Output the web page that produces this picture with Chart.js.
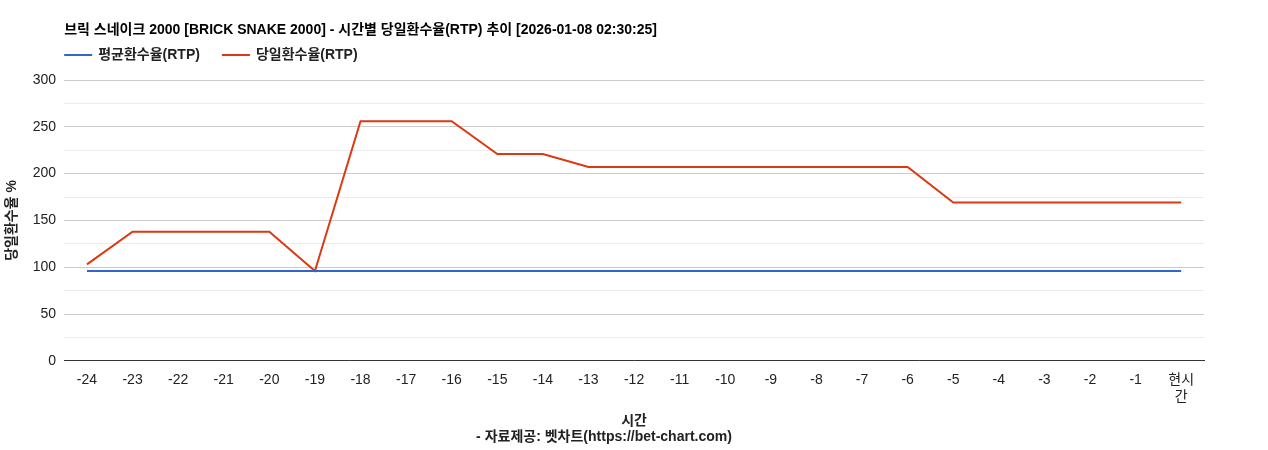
<!DOCTYPE html>
<html><head><meta charset="utf-8">
<script src="https://cdn.jsdelivr.net/npm/chart.js@4/dist/chart.umd.min.js"></script>
<style>html,body{margin:0;padding:0;background:#fff}#wrap{width:1268px;height:450px}</style>
</head><body><div id="wrap"><canvas id="c"></canvas></div>
<script>
const hours = ['-24','-23','-22','-21','-20','-19','-18','-17','-16','-15','-14','-13','-12','-11','-10','-9','-8','-7','-6','-5','-4','-3','-2','-1',['현시','간']];
const avgRtp = [96,96,96,96,96,96,96,96,96,96,96,96,96,96,96,96,96,96,96,96,96,96,96,96,96];
const dayRtp = [103,138,138,138,138,96,256,256,256,221,221,207,207,207,207,207,207,207,207,169,169,169,169,169,169];
const chartTitle = '브릭 스네이크 2000 [BRICK SNAKE 2000] - 시간별 당일환수율(RTP) 추이 [2026-01-08 02:30:25]';

const FONT = "Arial,'Liberation Sans','Noto Sans CJK KR',sans-serif";
Chart.defaults.font.family = FONT;
Chart.defaults.color = '#222';

// 제목 + 범례를 플롯 왼쪽선에 맞춰 그림
const headerPlugin = {
  id: 'header',
  afterDraw(chart) {
    const ctx = chart.ctx, left = chart.chartArea.left;
    ctx.save();
    ctx.fillStyle = '#000';
    ctx.textBaseline = 'middle';
    ctx.font = 'bold 14px ' + FONT;
    ctx.fillText(chartTitle, left, 30);
    ctx.font = 'bold 14px ' + FONT;
    let x = left;
    chart.data.datasets.forEach(ds => {
      ctx.fillStyle = ds.borderColor;
      ctx.fillRect(x, 54, 28, 2);
      ctx.fillStyle = '#222';
      ctx.fillText(ds.label, x + 34, 55);
      x += 34 + ctx.measureText(ds.label).width + 22;
    });
    ctx.restore();
  }
};

new Chart(document.getElementById('c'), {
  type: 'line',
  data: {
    labels: hours,
    datasets: [
      { label: '평균환수율(RTP)', data: avgRtp, borderColor: '#3366cc', borderWidth: 2, pointRadius: 0, tension: 0 },
      { label: '당일환수율(RTP)', data: dayRtp, borderColor: '#dc3912', borderWidth: 2, pointRadius: 0, tension: 0 }
    ]
  },
  options: {
    responsive: true, maintainAspectRatio: false, animation: false,
    layout: { padding: { left: 4, right: 64, top: 80, bottom: 4 } },
    plugins: {
      legend: { display: false },
      subtitle: { display: true, position: 'bottom', text: '- 자료제공: 벳차트(https://bet-chart.com)', font: { size: 14, weight: 'bold' }, padding: { top: 0, bottom: 0 } },
      tooltip: { enabled: false }
    },
    scales: {
      x: {
        offset: true,
        grid: { display: false },
        border: { color: '#333' },
        ticks: { font: { size: 14 }, maxRotation: 0, autoSkip: false },
        title: { display: true, text: '시간', font: { size: 14, weight: 'bold' }, padding: { top: 4, bottom: 0 } }
      },
      y: {
        min: 0, max: 300,
        border: { display: false },
        grid: { color: ctx => ctx.tick.value % 50 === 0 ? '#cccccc' : '#ebebeb', drawTicks: false },
        ticks: { stepSize: 25, padding: 8, font: { size: 14 }, callback: v => v % 50 === 0 ? v : '' },
        title: { display: true, text: '당일환수율 %', font: { size: 14, weight: 'bold' }, padding: { top: 0, bottom: 4 } }
      }
    }
  },
  plugins: [headerPlugin]
});
</script></body></html>
